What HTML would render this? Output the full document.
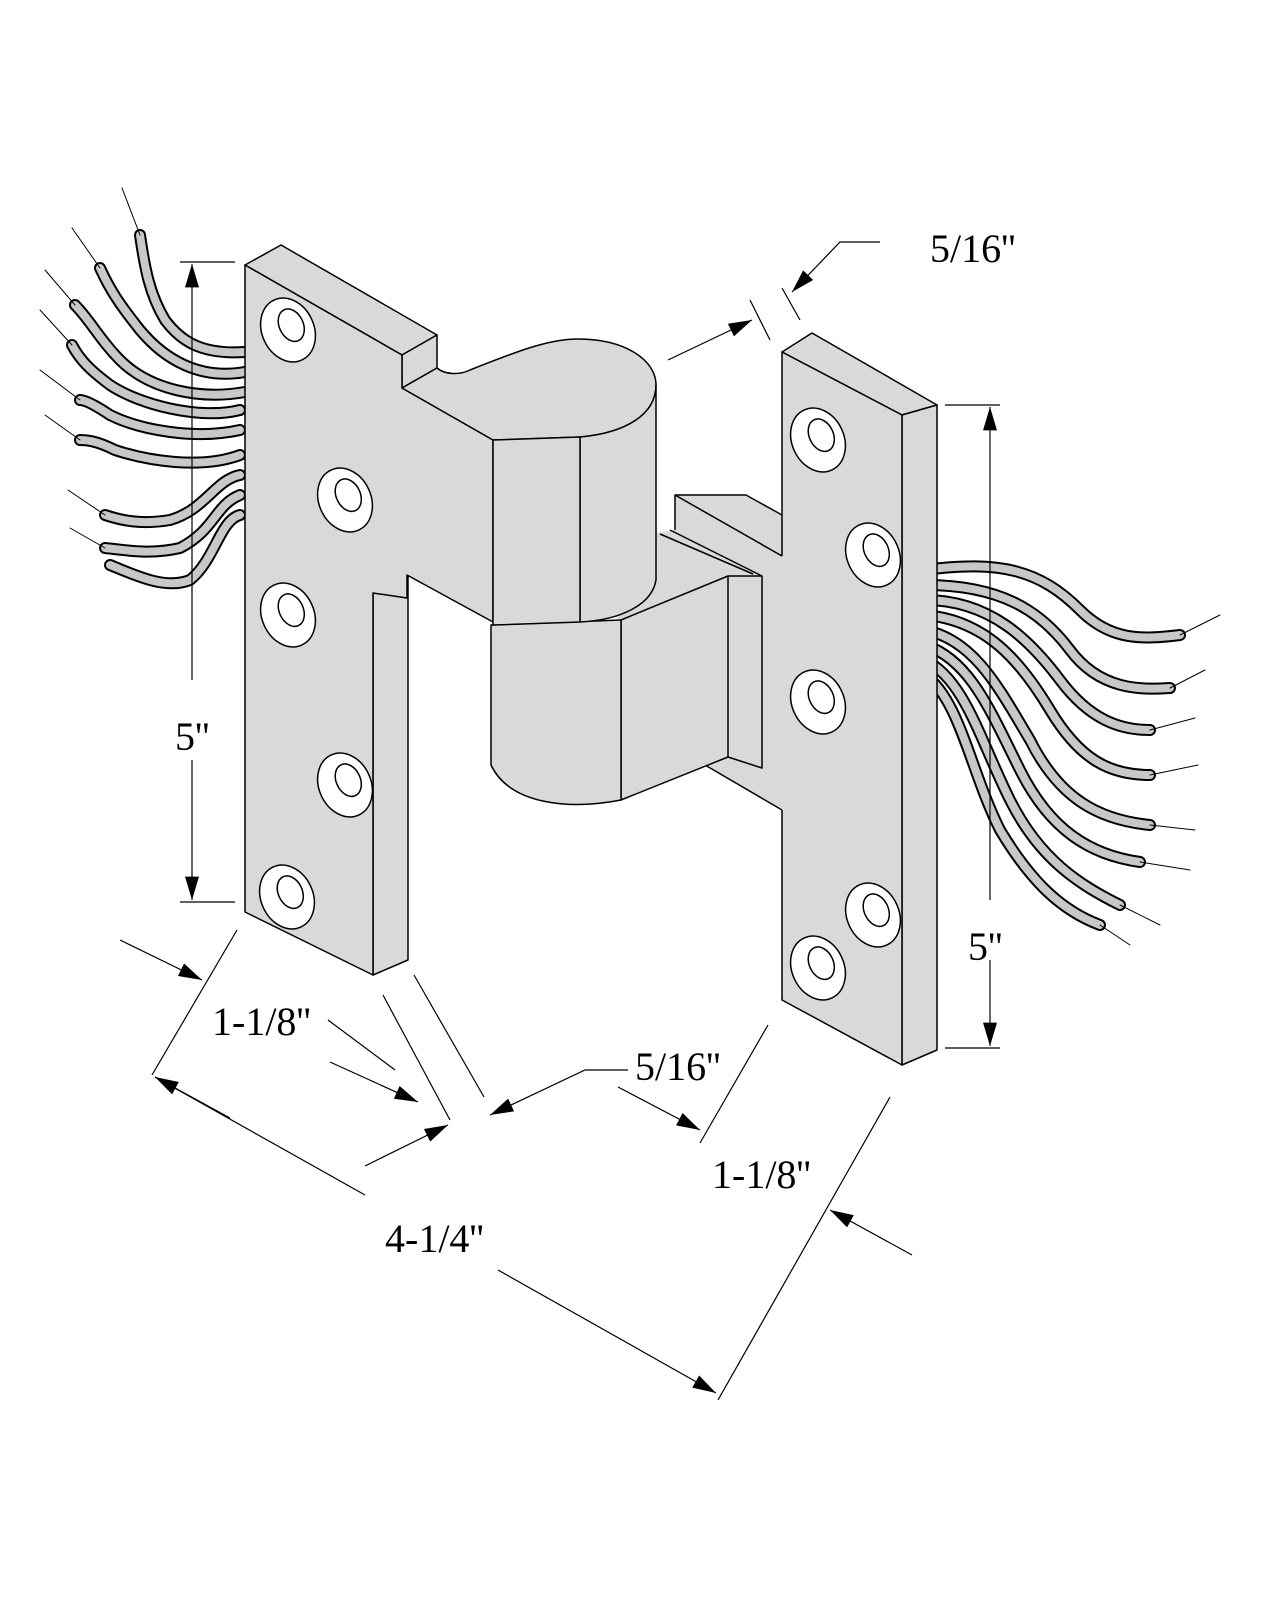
<!DOCTYPE html>
<html><head><meta charset="utf-8"><style>
html,body{margin:0;padding:0;background:#fff}
svg{display:block}
text{font-family:"Liberation Serif",serif;font-size:40px;fill:#000}
</style></head><body>
<svg width="1280" height="1600" viewBox="0 0 1280 1600" xmlns="http://www.w3.org/2000/svg">
<defs>
<marker id="a" viewBox="0 0 10 6" refX="10" refY="3" markerWidth="40" markerHeight="14" markerUnits="userSpaceOnUse" orient="auto"><path d="M0,0 L10,3 L0,6 z" fill="#000"/></marker>
</defs>
<g fill="none" stroke-linecap="round">
<g stroke="#000" stroke-width="12">
<path d="M245,352 C200,355 180,340 165,320 C150,295 145,270 140,235"/>
<path d="M245,372 C200,380 165,360 140,330 C120,305 110,290 100,268"/>
<path d="M245,392 C200,400 150,390 120,360 C100,340 90,320 75,305"/>
<path d="M240,410 C200,420 140,405 110,385 C90,370 80,360 72,345"/>
<path d="M240,430 C195,440 140,430 110,415 C95,405 85,400 80,400"/>
<path d="M240,455 C200,470 145,460 115,450 C95,440 85,440 80,440"/>
<path d="M240,475 C215,480 205,510 170,520 C140,525 120,520 105,515"/>
<path d="M240,495 C215,505 215,530 180,548 C150,555 125,550 105,548"/>
<path d="M240,515 C220,520 215,560 190,580 C165,590 135,575 110,565"/>
</g>
<g stroke="#c8c8c8" stroke-width="8">
<path d="M245,352 C200,355 180,340 165,320 C150,295 145,270 140,235"/>
<path d="M245,372 C200,380 165,360 140,330 C120,305 110,290 100,268"/>
<path d="M245,392 C200,400 150,390 120,360 C100,340 90,320 75,305"/>
<path d="M240,410 C200,420 140,405 110,385 C90,370 80,360 72,345"/>
<path d="M240,430 C195,440 140,430 110,415 C95,405 85,400 80,400"/>
<path d="M240,455 C200,470 145,460 115,450 C95,440 85,440 80,440"/>
<path d="M240,475 C215,480 205,510 170,520 C140,525 120,520 105,515"/>
<path d="M240,495 C215,505 215,530 180,548 C150,555 125,550 105,548"/>
<path d="M240,515 C220,520 215,560 190,580 C165,590 135,575 110,565"/>
</g>
<g stroke="#000" stroke-width="1">
<path d="M140,235 L122,188"/><path d="M100,268 L72,228"/><path d="M75,305 L45,270"/><path d="M72,345 L40,310"/><path d="M80,400 L40,370"/><path d="M80,440 L45,415"/><path d="M105,515 L68,490"/><path d="M105,548 L70,528"/>
</g>
<g stroke="#000" stroke-width="12">
<path d="M925,570 C1000,560 1040,570 1080,610 C1110,640 1140,640 1180,635"/>
<path d="M925,585 C1000,585 1040,610 1070,650 C1100,690 1140,690 1170,688"/>
<path d="M925,600 C990,600 1030,640 1060,680 C1090,720 1120,730 1150,730"/>
<path d="M925,615 C985,620 1020,660 1050,710 C1080,760 1110,775 1150,775"/>
<path d="M925,630 C975,640 1000,690 1030,740 C1060,800 1100,820 1150,825"/>
<path d="M925,645 C970,660 990,710 1020,770 C1050,830 1090,855 1140,862"/>
<path d="M925,660 C965,680 980,740 1010,800 C1040,860 1080,885 1120,905"/>
<path d="M925,675 C960,700 970,770 1000,830 C1030,880 1060,910 1100,925"/>
</g>
<g stroke="#c8c8c8" stroke-width="8">
<path d="M925,570 C1000,560 1040,570 1080,610 C1110,640 1140,640 1180,635"/>
<path d="M925,585 C1000,585 1040,610 1070,650 C1100,690 1140,690 1170,688"/>
<path d="M925,600 C990,600 1030,640 1060,680 C1090,720 1120,730 1150,730"/>
<path d="M925,615 C985,620 1020,660 1050,710 C1080,760 1110,775 1150,775"/>
<path d="M925,630 C975,640 1000,690 1030,740 C1060,800 1100,820 1150,825"/>
<path d="M925,645 C970,660 990,710 1020,770 C1050,830 1090,855 1140,862"/>
<path d="M925,660 C965,680 980,740 1010,800 C1040,860 1080,885 1120,905"/>
<path d="M925,675 C960,700 970,770 1000,830 C1030,880 1060,910 1100,925"/>
</g>
<g stroke="#000" stroke-width="1">
<path d="M1180,635 L1220,615"/><path d="M1170,688 L1205,670"/><path d="M1150,730 L1195,718"/><path d="M1150,775 L1198,765"/><path d="M1150,825 L1195,830"/><path d="M1140,862 L1190,870"/><path d="M1120,905 L1160,925"/><path d="M1100,925 L1130,945"/>
</g>
</g>

<g stroke="#000" stroke-width="1.5" stroke-linejoin="round" fill="#d9d9d9">
<!-- right plate leaf region (fill) -->
<path d="M675,495 L746,495 L782,515 L782,810 L705,765 L621,800 L621,620 L580,600 L580,540 L655,533 L675,530 Z" stroke="none"/>
<path d="M675,530 L675,495 L746,495 L782,515 M675,495 L782,556 M660,534 L753,574 M670,530 L762,576 M705,765 L782,810" fill="none"/>
<!-- right plate -->
<path d="M782,352 L812,333 L937,405 L902,415 Z"/>
<path d="M902,415 L937,405 L937,1050 L902,1065 Z"/>
<path d="M782,352 L902,415 L902,1065 L782,1000 Z" stroke="none"/>
<path d="M782,556 L782,352 L902,415 L902,1065 L782,1000 L782,810" fill="none"/>
<!-- lower knuckle + flange -->
<path d="M621,620 L728,576 L762,576 L762,768 L728,757 L621,800 Z"/>
<path d="M728,576 L728,757" fill="none"/>
<path d="M491,625 L621,620 L621,800 C570,810 510,805 491,765 Z"/>
<!-- left plate -->
<path d="M245,265 L281,245 L437,335 L402,355 Z"/>
<path d="M402,355 L437,335 L437,368 L402,388 Z"/>
<path d="M373,593 L408,575 L408,960 L373,975 Z"/>
<path d="M245,265 L402,355 L402,388 L493,440 L493,622 L407,575 L407,598 L373,593 L373,975 L245,912 Z"/>
<!-- upper knuckle -->
<path d="M437,368 C445,375 460,375 470,370 C520,350 550,339 578,339 C625,339 656,360 656,385 C656,415 625,433 580,437 L493,440 L402,388 Z"/>
<path d="M580,437 C625,433 656,415 656,385 L656,580 C652,605 620,620 580,622 Z"/>
<path d="M493,440 L580,437 L580,622 L493,625 Z"/>
</g>
<g stroke="#000" stroke-width="1.5" fill="#fff">
<g transform="rotate(-25 288 330)"><ellipse cx="288" cy="330" rx="26" ry="33"/><ellipse cx="293" cy="327" rx="12" ry="17"/></g>
<g transform="rotate(-25 345 500)"><ellipse cx="345" cy="500" rx="26" ry="33"/><ellipse cx="350" cy="497" rx="12" ry="17"/></g>
<g transform="rotate(-25 288 615)"><ellipse cx="288" cy="615" rx="26" ry="33"/><ellipse cx="293" cy="612" rx="12" ry="17"/></g>
<g transform="rotate(-25 345 785)"><ellipse cx="345" cy="785" rx="26" ry="33"/><ellipse cx="350" cy="782" rx="12" ry="17"/></g>
<g transform="rotate(-25 287 897)"><ellipse cx="287" cy="897" rx="26" ry="33"/><ellipse cx="292" cy="894" rx="12" ry="17"/></g>
<g transform="rotate(-25 818 440)"><ellipse cx="818" cy="440" rx="26" ry="33"/><ellipse cx="823" cy="437" rx="12" ry="17"/></g>
<g transform="rotate(-25 873 555)"><ellipse cx="873" cy="555" rx="26" ry="33"/><ellipse cx="878" cy="552" rx="12" ry="17"/></g>
<g transform="rotate(-25 818 702)"><ellipse cx="818" cy="702" rx="26" ry="33"/><ellipse cx="823" cy="699" rx="12" ry="17"/></g>
<g transform="rotate(-25 873 915)"><ellipse cx="873" cy="915" rx="26" ry="33"/><ellipse cx="878" cy="912" rx="12" ry="17"/></g>
<g transform="rotate(-25 818 968)"><ellipse cx="818" cy="968" rx="26" ry="33"/><ellipse cx="823" cy="965" rx="12" ry="17"/></g>
</g>
<g stroke="#000" stroke-width="1.2" fill="none">
<path d="M180,262 L235,262 M180,902 L235,902"/>
<path d="M192,680 L192,264" marker-end="url(#a)"/>
<path d="M192,760 L192,900" marker-end="url(#a)"/>
<path d="M945,405 L1000,405 M945,1048 L1000,1048"/>
<path d="M990,900 L990,407" marker-end="url(#a)"/>
<path d="M990,960 L990,1046" marker-end="url(#a)"/>
<path d="M880,242 L840,242 L792,292" marker-end="url(#a)"/>
<path d="M668,360 L752,320" marker-end="url(#a)"/>
<path d="M750,300 L770,340 M782,288 L800,320"/>
<path d="M237,930 L152,1075 M383,995 L450,1120 M414,975 L484,1097 M328,1020 L395,1070"/>
<path d="M120,940 L202,980" marker-end="url(#a)"/>
<path d="M330,1062 L418,1102" marker-end="url(#a)"/>
<path d="M365,1166 L448,1125" marker-end="url(#a)"/>
<path d="M628,1070 L585,1070 L490,1115" marker-end="url(#a)"/>
<path d="M618,1087 L700,1130" marker-end="url(#a)"/>
<path d="M768,1025 L700,1143"/>
<path d="M890,1097 L718,1400"/>
<path d="M365,1195 L155,1077" />
<path d="M230,1118 L155,1077" marker-end="url(#a)"/>
<path d="M498,1270 L716,1393" marker-end="url(#a)"/>
<path d="M912,1255 L830,1210" marker-end="url(#a)"/>
</g>
<text x="930" y="262">5/16''</text>
<text x="175" y="750">5''</text>
<text x="968" y="960">5''</text>
<text x="212" y="1035">1-1/8''</text>
<text x="635" y="1080">5/16''</text>
<text x="712" y="1188">1-1/8''</text>
<text x="385" y="1252">4-1/4''</text>
</svg>
</body></html>
